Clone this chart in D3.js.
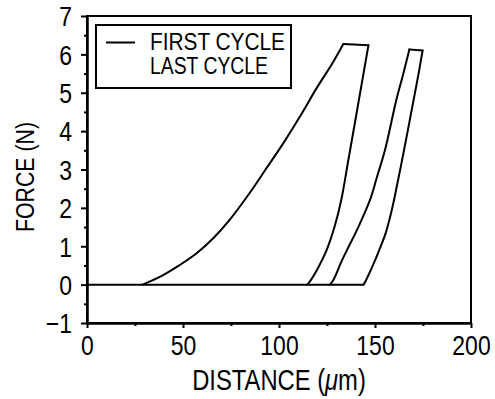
<!DOCTYPE html>
<html>
<head>
<meta charset="utf-8">
<script src="https://cdn.jsdelivr.net/npm/d3@7"></script>
<style>
  html, body { margin: 0; padding: 0; background: #fff; }
  svg { display: block; }
  text { font-family: 'Liberation Sans', Arial, sans-serif; fill: #000; }
</style>
</head>
<body>
<svg id="chart" width="495" height="399"></svg>
<script>
// ---- data (distance in µm, force in N) ----
const seriesNames = ["FIRST CYCLE", "LAST CYCLE"];
// first cycle: loading branch, unloading branch
const firstLoadDistance   = [29.0, 34, 39.7, 48, 57.1, 66, 74.5, 84.9, 93, 102.2, 110.9, 119.6, 128.3, 133.5];
const firstLoadForce      = [0, 0.11, 0.25, 0.5, 0.816, 1.22, 1.70, 2.40, 3.00, 3.68, 4.38, 5.12, 5.81, 6.27];
const firstUnloadDistance = [146.6, 141.6, 136.1, 132.4, 129.0, 124.8, 121.0, 118.5, 116.2, 114.8];
const firstUnloadForce    = [6.24, 4.81, 3.24, 2.20, 1.52, 0.90, 0.50, 0.27, 0.09, 0];
// last cycle
const lastLoadDistance    = [126.6, 128.3, 130.0, 132.5, 135.4, 141.5, 147.5, 151.0, 155.2, 161.1, 164.5, 167.9];
const lastLoadForce       = [0, 0.12, 0.30, 0.60, 0.90, 1.52, 2.22, 2.80, 3.51, 4.81, 5.45, 6.13];
const lastUnloadDistance  = [174.8, 172.7, 170.1, 165.1, 160.1, 158.3, 155.6, 152.2, 148.9, 146.6, 145.0, 144.0];
const lastUnloadForce     = [6.10, 5.50, 4.81, 3.50, 2.25, 1.85, 1.35, 0.90, 0.50, 0.25, 0.08, 0];
// shared zero-force baseline
const baselineDistance    = [0, 144.0];
const baselineForce       = [0, 0];

const xMajorTicks = [0, 50, 100, 150, 200];
const xMinorTicks = [25, 75, 125, 175];
const yMajorTicks = [-1, 0, 1, 2, 3, 4, 5, 6, 7];
const yMinorTicks = [-0.5, 0.5, 1.5, 2.5, 3.5, 4.5, 5.5, 6.5];
const xTitle = "DISTANCE (";
const xTitleMu = "\u03bc";
const xTitleEnd = "m)";
const yTitle = "FORCE (N)";

const NARROW = 0.82; // condensed look of the original lettering

const svg = d3.select("#chart");
const x = d3.scaleLinear().domain([0, 200]).range([87, 471]);
const y = d3.scaleLinear().domain([-1, 7]).range([323, 16]);

// frame (top & right)
svg.append("rect")
  .attr("x", x(0)).attr("y", y(7))
  .attr("width", x(200) - x(0)).attr("height", y(-1) - y(7))
  .attr("fill", "none").attr("stroke", "#000").attr("stroke-width", 2);

// x axis
const gx = svg.append("g").attr("transform", `translate(0,${y(-1)})`);
gx.call(d3.axisBottom(x).tickValues(xMajorTicks).tickSize(5).tickSizeOuter(0).tickPadding(7).tickFormat(d3.format("d")));
const gxm = svg.append("g").attr("transform", `translate(0,${y(-1)})`);
gxm.call(d3.axisBottom(x).tickValues(xMinorTicks).tickSize(3).tickSizeOuter(0).tickFormat(""));

// y axis
const gy = svg.append("g").attr("transform", `translate(${x(0)},0)`);
gy.call(d3.axisLeft(y).tickValues(yMajorTicks).tickSize(6).tickSizeOuter(0).tickPadding(9)
  .tickFormat(d => d < 0 ? "\u2212" + Math.abs(d) : String(d)));
const gym = svg.append("g").attr("transform", `translate(${x(0)},0)`);
gym.call(d3.axisLeft(y).tickValues(yMinorTicks).tickSize(3).tickSizeOuter(0).tickFormat(""));

[gx, gxm, gy, gym].forEach(g => {
  g.select(".domain").attr("stroke", "#000").attr("stroke-width", 2);
  g.selectAll(".tick line").attr("stroke", "#000").attr("stroke-width", 2);
  g.selectAll(".tick text").attr("font-size", 28)
    .attr("font-family", "'Liberation Sans', Arial, sans-serif").attr("fill", "#000");
});
gx.selectAll(".tick text").attr("dy", "0.71em").attr("transform", `scale(${NARROW},1)`);
gy.selectAll(".tick text").attr("dy", "0.35em")
  .attr("x", -15 / NARROW).attr("transform", `scale(${NARROW},1)`);

// curves
const zip = (a, b) => a.map((d, i) => [d, b[i]]);
const smooth = d3.line().x(d => x(d[0])).y(d => y(d[1])).curve(d3.curveCatmullRom.alpha(0.5));
const straight = d3.line().x(d => x(d[0])).y(d => y(d[1]));
const firstLoad = zip(firstLoadDistance, firstLoadForce);
const firstUnload = zip(firstUnloadDistance, firstUnloadForce);
const lastLoad = zip(lastLoadDistance, lastLoadForce);
const lastUnload = zip(lastUnloadDistance, lastUnloadForce);
const baseline = zip(baselineDistance, baselineForce);
const firstTop = [firstLoad[firstLoad.length - 1], firstUnload[0]];
const lastTop = [lastLoad[lastLoad.length - 1], lastUnload[0]];

const stroke = p => p.attr("fill", "none").attr("stroke", "#000").attr("stroke-width", 2)
  .attr("stroke-linejoin", "round").attr("stroke-linecap", "round");
[firstLoad, firstUnload, lastLoad, lastUnload].forEach(pts => {
  svg.append("path").datum(pts).attr("d", smooth).call(stroke);
});
[baseline, firstTop, lastTop].forEach(pts => {
  svg.append("path").datum(pts).attr("d", straight).call(stroke);
});

// legend
const lg = svg.append("g");
lg.append("rect").attr("x", 96).attr("y", 25).attr("width", 195).attr("height", 63)
  .attr("fill", "#fff").attr("stroke", "#000").attr("stroke-width", 2);
lg.append("line").attr("x1", 106).attr("x2", 135).attr("y1", 42.5).attr("y2", 42.5)
  .attr("stroke", "#000").attr("stroke-width", 2);
lg.append("text").attr("x", 150).attr("y", 50).attr("font-size", 23)
  .attr("textLength", 135).attr("lengthAdjust", "spacingAndGlyphs").text(seriesNames[0]);
lg.append("text").attr("x", 150).attr("y", 73.5).attr("font-size", 23)
  .attr("textLength", 118).attr("lengthAdjust", "spacingAndGlyphs").text(seriesNames[1]);

// axis titles
const xt = svg.append("text").attr("text-anchor", "middle").attr("font-size", 29)
  .attr("transform", `translate(${x(100)},390) scale(${NARROW},1)`);
xt.append("tspan").text(xTitle);
xt.append("tspan").attr("font-style", "italic").text(xTitleMu);
xt.append("tspan").text(xTitleEnd);

svg.append("text").attr("transform", `translate(34,177) rotate(-90) scale(${NARROW},1)`)
  .attr("text-anchor", "middle").attr("font-size", 26).text(yTitle);
</script>
</body>
</html>
